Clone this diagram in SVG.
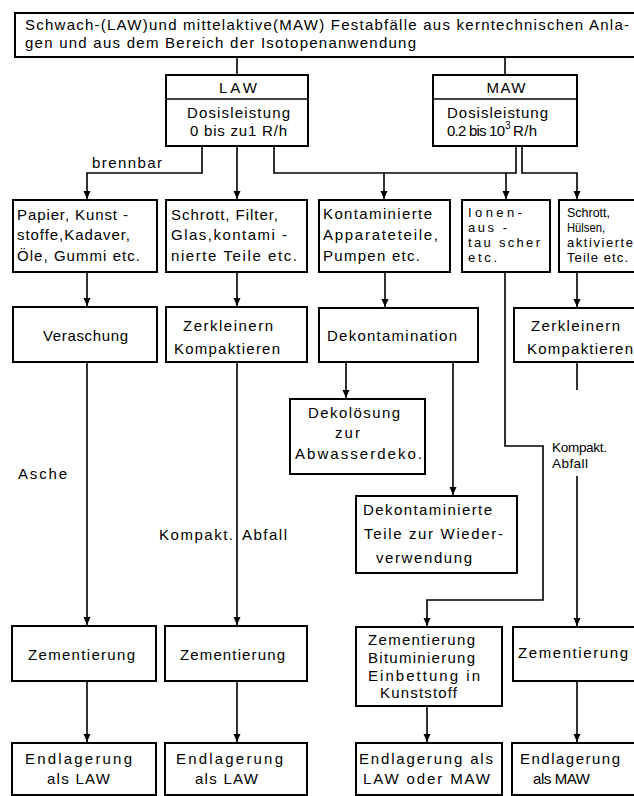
<svg xmlns="http://www.w3.org/2000/svg" width="634" height="796" viewBox="0 0 634 796">
<style>
.b{fill:#fff;stroke:#000;stroke-width:2}
.c{fill:none;stroke:#000;stroke-width:1.6}
text{font-family:"Liberation Sans","Arial",sans-serif;font-size:15px;fill:#000}
.s{font-size:13.5px}
.t{font-size:13px}
.m{text-anchor:middle}
</style>
<defs>
<marker id="ah" markerUnits="userSpaceOnUse" markerWidth="9" markerHeight="8" refX="8" refY="3.5" orient="auto">
<path d="M0,0 L8,3.5 L0,7 z" fill="#000"/>
</marker>
</defs>
<rect width="634" height="796" fill="#fff"/>

<g id="connectors">
<path class="c" d="M237,57 V75"/>
<path class="c" d="M505,57 V75"/>
<path class="c" d="M202,146 V173 H87 V199" marker-end="url(#ah)"/>
<path class="c" d="M237,146 V199" marker-end="url(#ah)"/>
<path class="c" d="M274,146 V173 H516 V146"/>
<path class="c" d="M384,173 V199" marker-end="url(#ah)"/>
<path class="c" d="M506,173 V199" marker-end="url(#ah)"/>
<path class="c" d="M522,146 V173 H577 V199" marker-end="url(#ah)"/>
<path class="c" d="M87,272 V306" marker-end="url(#ah)"/>
<path class="c" d="M237,272 V306" marker-end="url(#ah)"/>
<path class="c" d="M385,272 V307" marker-end="url(#ah)"/>
<path class="c" d="M577,272 V307" marker-end="url(#ah)"/>
<path class="c" d="M346,362 V398" marker-end="url(#ah)"/>
<path class="c" d="M453,362 V495" marker-end="url(#ah)"/>
<path class="c" d="M505,272 V446 H543 V600 H427 V626" marker-end="url(#ah)"/>
<path class="c" d="M577,362 V390"/>
<path class="c" d="M577,476 V626" marker-end="url(#ah)"/>
<path class="c" d="M87,362 V625" marker-end="url(#ah)"/>
<path class="c" d="M237,362 V625" marker-end="url(#ah)"/>
<path class="c" d="M87,681 V742" marker-end="url(#ah)"/>
<path class="c" d="M237,681 V742" marker-end="url(#ah)"/>
<path class="c" d="M427,706 V742" marker-end="url(#ah)"/>
<path class="c" d="M577,681 V742" marker-end="url(#ah)"/>
<text x="92" y="168" textLength="70" lengthAdjust="spacing">brennbar</text>
<text x="18" y="479" textLength="49" lengthAdjust="spacing">Asche</text>
<text x="159" y="540" textLength="74" lengthAdjust="spacing">Kompakt.</text>
<text x="242" y="540" textLength="45" lengthAdjust="spacing">Abfall</text>
<text class="s" x="552" y="452" textLength="55" lengthAdjust="spacing">Kompakt.</text>
<text class="s" x="552" y="468" textLength="36" lengthAdjust="spacing">Abfall</text>
</g>

<g id="source">
<rect class="b" x="15" y="13" width="630" height="44"/>
<text x="25" y="30" textLength="604" lengthAdjust="spacing">Schwach-(LAW)und mittelaktive(MAW) Festabfälle aus kerntechnischen Anla-</text>
<text x="25" y="48" textLength="391" lengthAdjust="spacing">gen und aus dem Bereich der Isotopenanwendung</text>
</g>

<g id="law">
<rect class="b" x="166" y="75" width="142" height="71"/>
<path class="c" d="M166,99 H308" stroke-width="2"/>
<text class="m" x="238" y="93" textLength="38" lengthAdjust="spacing">LAW</text>
<text x="187" y="118" textLength="103" lengthAdjust="spacing">Dosisleistung</text>
<text x="190" y="136" textLength="97" lengthAdjust="spacing">0 bis zu1 R/h</text>
</g>

<g id="maw">
<rect class="b" x="433" y="75" width="144" height="71"/>
<path class="c" d="M433,99 H577" stroke-width="2"/>
<text class="m" x="506" y="93" textLength="39" lengthAdjust="spacing">MAW</text>
<text x="447" y="118" textLength="101" lengthAdjust="spacing">Dosisleistung</text>
<text x="447" y="136" textLength="58" lengthAdjust="spacing">0.2 bis 10</text>
<text x="505" y="129" style="font-size:10px">3</text>
<text x="513" y="136" textLength="24" lengthAdjust="spacing">R/h</text>
</g>

<g id="papier">
<rect class="b" x="13" y="200" width="144" height="72"/>
<text x="17" y="220" textLength="111" lengthAdjust="spacing">Papier, Kunst -</text>
<text x="17" y="240" textLength="113" lengthAdjust="spacing">stoffe,Kadaver,</text>
<text x="17" y="261" textLength="123" lengthAdjust="spacing">Öle, Gummi etc.</text>
</g>

<g id="schrott1">
<rect class="b" x="166" y="200" width="141" height="72"/>
<text x="171" y="220" textLength="107" lengthAdjust="spacing">Schrott, Filter,</text>
<text x="171" y="240" textLength="116" lengthAdjust="spacing">Glas,kontami -</text>
<text x="171" y="261" textLength="126" lengthAdjust="spacing">nierte Teile etc.</text>
</g>

<g id="apparate">
<rect class="b" x="319" y="200" width="131" height="72"/>
<text x="323" y="219" textLength="109" lengthAdjust="spacing">Kontaminierte</text>
<text x="323" y="240" textLength="115" lengthAdjust="spacing">Apparateteile,</text>
<text x="323" y="261" textLength="97" lengthAdjust="spacing">Pumpen etc.</text>
</g>

<g id="ionen">
<rect class="b" x="462" y="200" width="88" height="72"/>
<text class="t" x="468" y="217" textLength="54" lengthAdjust="spacing">Ionen-</text>
<text class="t" x="468" y="232" textLength="39" lengthAdjust="spacing">aus -</text>
<text class="t" x="468" y="247" textLength="72" lengthAdjust="spacing">tau scher</text>
<text class="t" x="468" y="262" textLength="29" lengthAdjust="spacing">etc.</text>
</g>

<g id="schrott2">
<rect class="b" x="559" y="200" width="90" height="72"/>
<text class="t" x="567" y="217" textLength="43" lengthAdjust="spacingAndGlyphs">Schrott,</text>
<text class="t" x="567" y="232" textLength="38" lengthAdjust="spacingAndGlyphs">Hülsen,</text>
<text class="t" x="567" y="247" textLength="66" lengthAdjust="spacing">aktivierte</text>
<text class="t" x="567" y="262" textLength="61" lengthAdjust="spacing">Teile etc.</text>
</g>

<g id="veraschung">
<rect class="b" x="13" y="307" width="144" height="55"/>
<text x="43" y="341" textLength="85" lengthAdjust="spacing">Veraschung</text>
</g>

<g id="zerkleinern1">
<rect class="b" x="166" y="307" width="141" height="55"/>
<text x="183" y="331" textLength="90" lengthAdjust="spacing">Zerkleinern</text>
<text x="174" y="354" textLength="106" lengthAdjust="spacing">Kompaktieren</text>
</g>

<g id="dekontamination">
<rect class="b" x="319" y="308" width="159" height="54"/>
<text x="327" y="341" textLength="130" lengthAdjust="spacing">Dekontamination</text>
</g>

<g id="zerkleinern2">
<rect class="b" x="514" y="308" width="134" height="54"/>
<text x="531" y="331" textLength="89" lengthAdjust="spacing">Zerkleinern</text>
<text x="527" y="354" textLength="106" lengthAdjust="spacing">Kompaktieren</text>
</g>

<g id="dekoloesung">
<rect class="b" x="290" y="399" width="135" height="75"/>
<text x="308" y="418" textLength="92" lengthAdjust="spacing">Dekolösung</text>
<text x="335" y="438" textLength="25" lengthAdjust="spacing">zur</text>
<text x="295" y="459" textLength="127" lengthAdjust="spacing">Abwasserdeko.</text>
</g>

<g id="dekontaminierte">
<rect class="b" x="356" y="496" width="161" height="77"/>
<text x="363" y="515" textLength="129" lengthAdjust="spacing">Dekontaminierte</text>
<text x="364" y="539" textLength="139" lengthAdjust="spacing">Teile zur Wieder-</text>
<text x="376" y="563" textLength="96" lengthAdjust="spacing">verwendung</text>
</g>

<g id="zem1">
<rect class="b" x="12" y="626" width="144" height="55"/>
<text x="28" y="660" textLength="107" lengthAdjust="spacing">Zementierung</text>
</g>

<g id="zem2">
<rect class="b" x="165" y="626" width="142" height="55"/>
<text x="180" y="660" textLength="105" lengthAdjust="spacing">Zementierung</text>
</g>

<g id="zem3">
<rect class="b" x="356" y="627" width="146" height="79"/>
<text x="368" y="645" textLength="107" lengthAdjust="spacing">Zementierung</text>
<text x="368" y="663" textLength="107" lengthAdjust="spacing">Bituminierung</text>
<text x="368" y="681" textLength="112" lengthAdjust="spacing">Einbettung in</text>
<text x="380" y="698" textLength="77" lengthAdjust="spacing">Kunststoff</text>
</g>

<g id="zem4">
<rect class="b" x="513" y="627" width="135" height="54"/>
<text x="518" y="658" textLength="110" lengthAdjust="spacing">Zementierung</text>
</g>

<g id="end1">
<rect class="b" x="12" y="743" width="144" height="52"/>
<text x="25" y="764" textLength="107" lengthAdjust="spacing">Endlagerung</text>
<text x="47" y="784" textLength="63" lengthAdjust="spacing">als LAW</text>
</g>

<g id="end2">
<rect class="b" x="165" y="743" width="142" height="52"/>
<text x="176" y="764" textLength="107" lengthAdjust="spacing">Endlagerung</text>
<text x="195" y="784" textLength="63" lengthAdjust="spacing">als LAW</text>
</g>

<g id="end3">
<rect class="b" x="356" y="743" width="146" height="52"/>
<text x="359" y="764" textLength="134" lengthAdjust="spacing">Endlagerung als</text>
<text x="363" y="784" textLength="127" lengthAdjust="spacing">LAW oder MAW</text>
</g>

<g id="end4">
<rect class="b" x="512" y="743" width="136" height="52"/>
<text x="520" y="764" textLength="100" lengthAdjust="spacing">Endlagerung</text>
<text x="533" y="784" textLength="57" lengthAdjust="spacing">als MAW</text>
</g>
</svg>
